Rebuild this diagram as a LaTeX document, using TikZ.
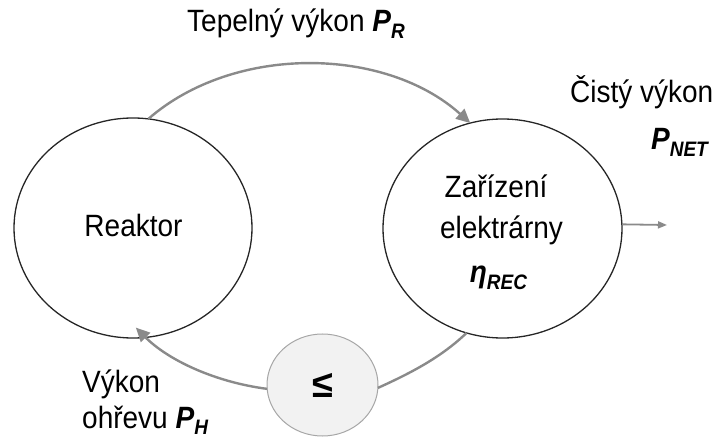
\documentclass[tikz,border=0pt]{standalone}
\usepackage{fontspec}
\setmainfont{Liberation Sans}
\usetikzlibrary{arrows.meta,shapes.geometric,calc}
\definecolor{arrowgray}{HTML}{8A8A8A}
\definecolor{ringline}{HTML}{262626}
\definecolor{smallfill}{HTML}{F2F2F2}
\definecolor{smallline}{HTML}{A6A6A6}
\newcommand\subtxt[1]{\raisebox{-6pt}{\fontsize{19}{19}\selectfont\bfseries\itshape #1}}
\newcommand\bip[1]{{\bfseries\itshape #1}}
\begin{document}
\begin{tikzpicture}[x=1pt,y=1pt,
  bigcirc/.style={ellipse, draw=ringline, line width=1.3pt, inner sep=0pt, outer sep=0pt},
  smallcirc/.style={ellipse, draw=smallline, fill=smallfill, line width=1pt, inner sep=0pt, outer sep=0pt},
  flow/.style={draw=arrowgray, line width=2.4pt},
  flowarrow/.style={flow, -{Triangle[length=14pt,width=13pt]}},
  netarrow/.style={draw=arrowgray, line width=1.8pt, -{Triangle[length=9pt,width=7pt]}},
  lbl/.style={inner sep=0pt, font=\fontsize{28}{28}\selectfont, yscale=1.1, transform shape}
]
\useasboundingbox (0,0) rectangle (716,-441);
\node[bigcirc, minimum width=238pt, minimum height=220pt] (reac) at (133,-228) {};
\node[bigcirc, minimum width=239pt, minimum height=219pt] (zar) at (502.5,-228.5) {};
\node[smallcirc, minimum width=111pt, minimum height=102pt] (cmp) at (322.5,-385) {};
\node[inner sep=0pt, font=\fontsize{38}{38}\selectfont\bfseries] (le) at (322.5,-385) {≤};
\coordinate (netend) at (667,-225);

% connectors
\draw[flowarrow] (reac.82.7) .. controls (234,-44.1) and (385.2,-46.4) .. (zar.107.9);
\draw[flow] (zar.251) .. controls (442.0,-356.6) and (411.9,-372.6) .. (cmp.-3);
\draw[flowarrow] (cmp.184.5) .. controls (214.8,-382.1) and (168.0,-360.0) .. ($(reac.center)+(2.8,-99.6)$);
\draw[netarrow] (zar.2) -- (netend);

% labels
\node[lbl, anchor=base west] (tpr) at (187,-32) {Tepelný výkon \bip{P}\subtxt{R}};
\node[lbl, anchor=base west] (cist) at (570,-103) {Čistý výkon};
\node[lbl, anchor=base east] (pnet) at (708,-150) {\bip{P}\subtxt{NET}};
\node[lbl, anchor=base] (reactxt) at (133.5,-237) {Reaktor};
\node[lbl, anchor=base] (z1) at (496,-198) {Zařízení};
\node[lbl, anchor=base] (z2) at (501.5,-239) {elektrárny};
\node[lbl, anchor=base] (z3) at (498.5,-283) {\bip{η}\subtxt{REC}};
\node[lbl, anchor=base west] (v1) at (82,-392) {Výkon};
\node[lbl, anchor=base west] (v2) at (82,-428) {ohřevu \bip{P}\subtxt{H}};
\end{tikzpicture}
\end{document}
